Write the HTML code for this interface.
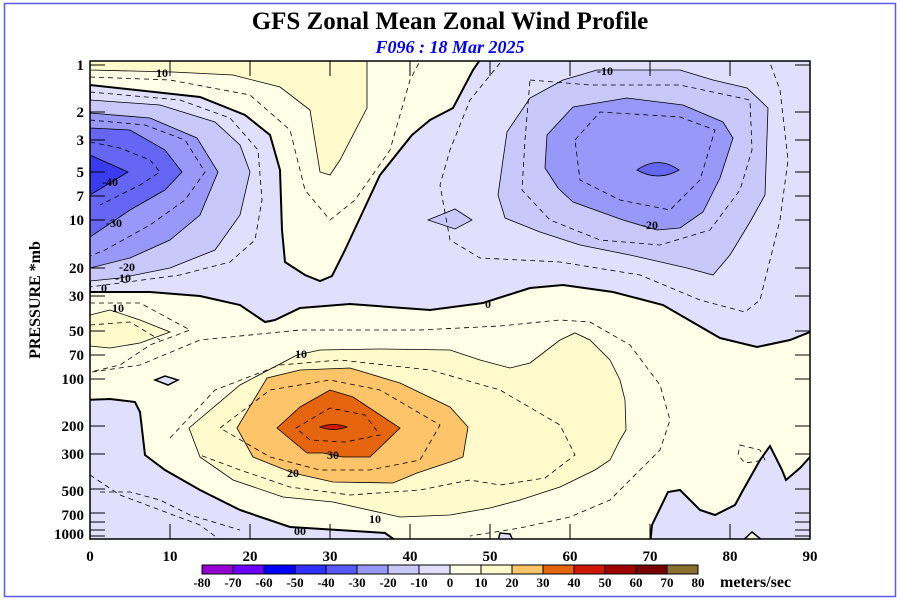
<!DOCTYPE html>
<html><head><meta charset="utf-8"><style>
body{margin:0;background:#fff}
svg{display:block}
text{font-family:"Liberation Serif",serif;font-weight:bold}
</style></head><body>
<svg width="900" height="600" viewBox="0 0 900 600" xmlns="http://www.w3.org/2000/svg">
<rect x="0" y="0" width="900" height="600" fill="#fff"/>
<rect x="4.5" y="3.5" width="891" height="593" fill="none" stroke="#5a5af0" stroke-width="1.5"/>
<text x="450" y="29" font-size="25" text-anchor="middle">GFS Zonal Mean Zonal Wind Profile</text>
<text x="450" y="53" font-size="18" text-anchor="middle" fill="#0000ff" font-style="italic">F096 : 18 Mar 2025</text>
<defs><clipPath id="c"><rect x="90" y="61" width="720" height="478"/></clipPath></defs>
<g clip-path="url(#c)">
<rect x="90" y="61" width="720" height="478" fill="#fffee6"/>
<path d="M90,85 L200,97 L245,115 L270,135 L280,170 L282,230 L285,262 L305,275 L320,281 L332,276 L345,250 L380,175 L412,135 L430,120 L453,108 L473,70 L480,60 L815,60 L815,332 L810,332 L790,340 L757,347 L720,338 L663,305 L613,292 L563,285 L530,288 L483,303 L430,310 L350,304 L300,308 L275,320 L265,322 L240,305 L200,296 L150,292 L90,292 Z" fill="#e0e0fc" stroke="#000" stroke-width="2"/>
<path d="M90,61 L367,61 L367,80 L367,108 L340,160 L330,175 L320,172 L310,110 L280,87 L233,75 L173,72 L90,70 Z" fill="#fffacc" stroke="#000" stroke-width="0.8"/>
<path d="M90,100 L160,105 L215,122 L240,145 L250,172 L240,215 L215,250 L170,268 L120,278 L90,281 Z" fill="#c8c8fa" stroke="#000" stroke-width="0.8"/>
<path d="M90,113 L150,118 L197,138 L218,172 L200,215 L170,240 L130,258 L90,268 Z" fill="#9898f8" stroke="#000" stroke-width="0.8"/>
<path d="M90,128 L130,130 L165,150 L182,172 L165,190 L130,210 L90,237 Z" fill="#6666f4" stroke="#000" stroke-width="0.8"/>
<path d="M90,155 L128,172 L90,195 Z" fill="#3a3af0" stroke="#000" stroke-width="0.8"/>
<path d="M563,80 L597,70 L680,70 L713,80 L747,88 L768,108 L765,195 L750,222 L730,255 L713,275 L687,268 L630,255 L580,245 L540,232 L505,218 L498,195 L507,132 L530,98 Z" fill="#c8c8fa" stroke="#000" stroke-width="0.8"/>
<path d="M573,107 L627,98 L683,105 L723,122 L733,138 L720,178 L703,212 L680,228 L657,230 L623,220 L573,202 L558,188 L545,168 L547,135 Z" fill="#9898f8" stroke="#000" stroke-width="0.8"/>
<path d="M637,170 Q658,155 679,170 Q658,182 637,170 Z" fill="#6666f4" stroke="#000" stroke-width="0.8"/>
<path d="M428,220 L455,209 L472,220 L455,229 Z" fill="#c8c8fa" stroke="#000" stroke-width="0.8"/>
<path d="M85,400 L110,399 L135,402 L140,412 L145,455 L165,470 L200,490 L240,510 L290,527 L385,533 L402,545 L85,545 Z" fill="#e0e0fc" stroke="#000" stroke-width="2"/>
<path d="M155,380 L165,376 L178,380 L168,385 Z" fill="#e0e0fc" stroke="#000" stroke-width="1.5"/>
<path d="M650,545 L652,525 L668,492 L680,490 L700,510 L715,515 L735,505 L742,492 L760,460 L770,446 L782,470 L786,480 L800,468 L810,457 L815,457 L815,545 Z" fill="#e0e0fc" stroke="#000" stroke-width="2"/>
<path d="M738,545 L752,532 L768,545 Z" fill="#fffee6" stroke="#000" stroke-width="1.5"/>
<path d="M497,545 L500,533 L510,534 L515,545 Z" fill="#e0e0fc" stroke="#000" stroke-width="1.5"/>
<path d="M90,315 L110,310 L140,320 L170,332 L140,343 L110,348 L90,346 Z" fill="#fffacc" stroke="#000" stroke-width="0.8"/>
<path d="M189,428 L240,385 L297,355 L320,350 L380,349 L450,350 L480,360 L510,368 L530,363 L560,340 L575,333 L590,340 L610,360 L620,380 L625,400 L626,430 L620,440 L610,460 L595,470 L560,487 L520,500 L490,508 L450,515 L400,517 L333,502 L283,497 L233,480 L200,457 Z" fill="#fffacc" stroke="#000" stroke-width="0.8"/>
<path d="M237,428 L267,378 L300,370 L350,368 L400,383 L450,407 L468,427 L463,457 L450,462 L417,473 L393,483 L333,482 L293,473 L253,457 Z" fill="#fdc46a" stroke="#000" stroke-width="0.8"/>
<path d="M277,428 L300,407 L330,390 L353,397 L400,428 L370,457 L343,457 L323,453 L307,453 Z" fill="#e5650f" stroke="#000" stroke-width="0.8"/>
<path d="M320,427 Q333,422 347,427 Q333,432 320,427 Z" fill="#d01800" stroke="#000" stroke-width="0.8"/>
<g fill="none" stroke="#000" stroke-width="0.8" stroke-dasharray="5,4">
<path d="M90,77 L170,80 L250,95 L290,130 L305,190 L330,220 L355,200 L390,150 L410,80 L420,61"/>
<path d="M90,92 L180,100 L230,118 L258,150 L262,200 L255,240 L230,262 L180,275 L90,287"/>
<path d="M90,120 L145,125 L185,140 L205,172 L185,200 L150,225 L105,250 L90,256"/>
<path d="M90,142 L120,148 L150,160 L160,172 L140,185 L100,205"/>
<path d="M500,63 L470,100 L450,150 L440,185 L450,240 L480,258 L560,262 L640,275 L700,300 L745,312 L760,300 L770,260 L780,220 L788,160 L780,90 L770,63"/>
<path d="M530,80 L590,85 L680,85 L750,100 L752,150 L740,190 L710,230 L660,245 L600,240 L550,220 L522,190 L525,140 Z"/>
<path d="M575,140 L600,112 L680,117 L715,130 L700,180 L670,210 L620,200 L580,180 Z"/>
<path d="M90,303 L140,303 L190,330 L150,345 L120,365 L90,372"/>
<path d="M90,325 L130,322 L160,340"/>
<path d="M92,372 L140,365 L200,340 L300,330 L360,330 L420,330 L500,326 L560,320 L590,322 L630,345 L660,385 L670,420 L660,450 L640,470 L610,500 L570,517 L520,528 L470,536"/>
<path d="M170,438 L215,390 L280,365 L340,360 L430,370 L500,390 L560,425 L575,455 L545,478 L500,485 L470,480 L420,490 L350,495 L290,487 L240,470 L200,455"/>
<path d="M220,428 L270,390 L330,380 L380,390 L440,425 L420,460 L370,470 L320,470 L270,457 Z"/>
<path d="M296,428 L330,408 L365,415 L380,435 L345,442 L310,440 Z"/>
<path d="M90,475 L120,495 L160,510 L200,525 L220,540"/>
<path d="M100,492 L130,492 L160,500 L190,515 L240,530"/>
<path d="M740,445 L760,450 L765,460 L745,463 L738,455 Z"/>
</g>
</g>
<rect x="90" y="61" width="720" height="478" fill="none" stroke="#000" stroke-width="1.5"/>
<g stroke="#000" stroke-width="1">
<path d="M90,65h15M90,112h15M90,140h15M90,172h15M90,196h15M90,220h15M90,268h15M90,296h15M90,331h15M90,355h15M90,379h15M90,426h15M90,454h15M90,489h15M90,513h15M90,522h15M90,530h15M90,536h15"/>
<path d="M810,65h-15M810,112h-15M810,140h-15M810,172h-15M810,196h-15M810,220h-15M810,268h-15M810,296h-15M810,331h-15M810,355h-15M810,379h-15M810,426h-15M810,454h-15M810,489h-15M810,513h-15M810,522h-15M810,530h-15M810,536h-15"/>
<path d="M170,539v-15M250,539v-15M330,539v-15M410,539v-15M490,539v-15M570,539v-15M650,539v-15M730,539v-15"/>
<path d="M170,61v15M250,61v15M330,61v15M410,61v15M490,61v15M570,61v15M650,61v15M730,61v15"/>
</g>
<g font-size="15" text-anchor="end">
<text x="84" y="70">1</text><text x="84" y="117">2</text><text x="84" y="145">3</text><text x="84" y="177">5</text><text x="84" y="201">7</text><text x="84" y="225">10</text><text x="84" y="273">20</text><text x="84" y="301">30</text><text x="84" y="336">50</text><text x="84" y="360">70</text><text x="84" y="384">100</text><text x="84" y="431">200</text><text x="84" y="459">300</text><text x="84" y="496">500</text><text x="84" y="520">700</text><text x="84" y="539">1000</text>
</g>
<g font-size="15" text-anchor="middle">
<text x="90" y="561">0</text><text x="170" y="561">10</text><text x="250" y="561">20</text><text x="330" y="561">30</text><text x="410" y="561">40</text><text x="490" y="561">50</text><text x="570" y="561">60</text><text x="650" y="561">70</text><text x="730" y="561">80</text><text x="810" y="561">90</text>
</g>
<text x="0" y="0" font-size="16" text-anchor="middle" transform="translate(40,300) rotate(-90)">PRESSURE *mb</text>
<g font-size="12" text-anchor="middle">
<text x="162" y="77">10</text><text x="110" y="186">-40</text><text x="114" y="227">-30</text><text x="127" y="271">-20</text><text x="123" y="282">-10</text><text x="104" y="292">0</text>
<text x="605" y="75">-10</text><text x="650" y="229">-20</text><text x="118" y="312">10</text><text x="301" y="358">10</text><text x="333" y="459">30</text><text x="293" y="477">20</text><text x="375" y="523">10</text><text x="300" y="535">00</text><text x="488" y="308">0</text>
</g>
<g stroke="#000" stroke-width="1">
<rect x="202" y="565" width="31" height="9" fill="#9400d3"/>
<rect x="233" y="565" width="31" height="9" fill="#6a00ff"/>
<rect x="264" y="565" width="31" height="9" fill="#0000ff"/>
<rect x="295" y="565" width="31" height="9" fill="#3030ff"/>
<rect x="326" y="565" width="31" height="9" fill="#5858f8"/>
<rect x="357" y="565" width="31" height="9" fill="#9898fa"/>
<rect x="388" y="565" width="31" height="9" fill="#c8c8fa"/>
<rect x="419" y="565" width="31" height="9" fill="#e0e0fc"/>
<rect x="450" y="565" width="31" height="9" fill="#fffee6"/>
<rect x="481" y="565" width="31" height="9" fill="#fffacc"/>
<rect x="512" y="565" width="31" height="9" fill="#fdc46a"/>
<rect x="543" y="565" width="31" height="9" fill="#e5650f"/>
<rect x="574" y="565" width="31" height="9" fill="#d01800"/>
<rect x="605" y="565" width="31" height="9" fill="#a00000"/>
<rect x="636" y="565" width="31" height="9" fill="#780000"/>
<rect x="667" y="565" width="31" height="9" fill="#8c7030"/>
</g>
<g font-size="13" text-anchor="middle">
<text x="202" y="587">-80</text><text x="233" y="587">-70</text><text x="264" y="587">-60</text><text x="295" y="587">-50</text><text x="326" y="587">-40</text><text x="357" y="587">-30</text><text x="388" y="587">-20</text><text x="419" y="587">-10</text><text x="450" y="587">0</text><text x="481" y="587">10</text><text x="512" y="587">20</text><text x="543" y="587">30</text><text x="574" y="587">40</text><text x="605" y="587">50</text><text x="636" y="587">60</text><text x="667" y="587">70</text><text x="698" y="587">80</text>
</g>
<text x="720" y="587" font-size="16">meters/sec</text>
</svg>
</body></html>
